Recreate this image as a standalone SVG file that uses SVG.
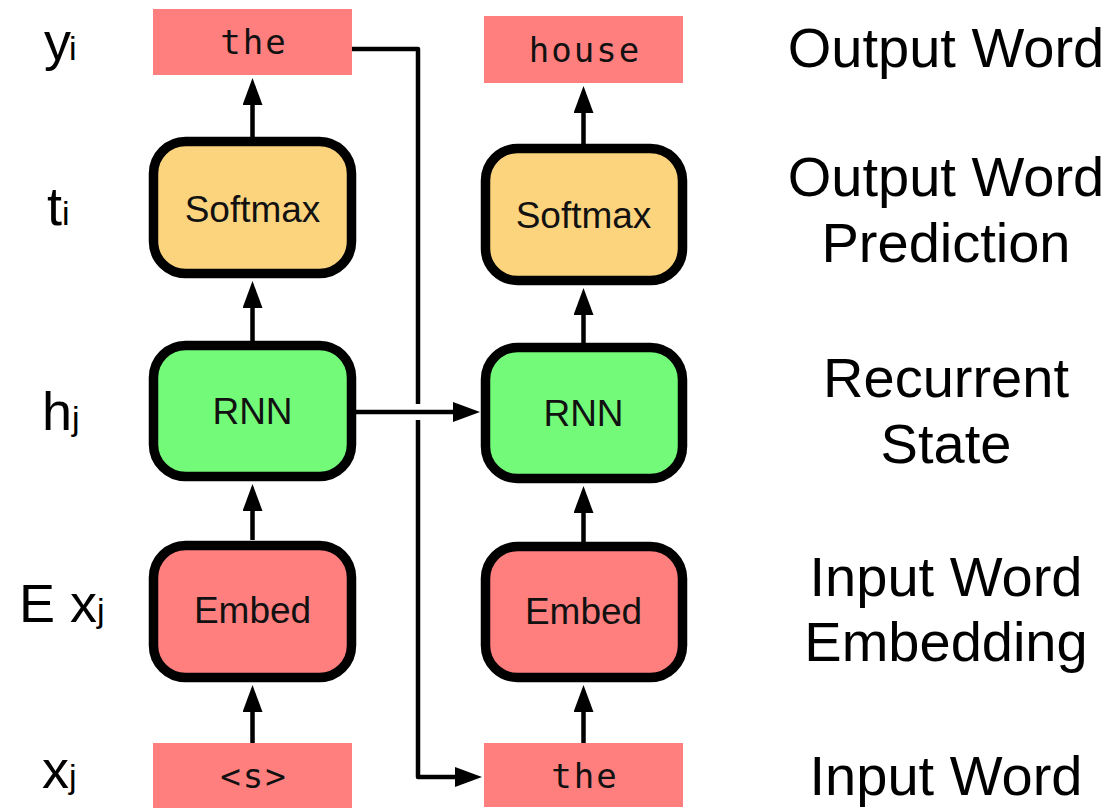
<svg xmlns="http://www.w3.org/2000/svg" width="1113" height="808" viewBox="0 0 1113 808">
<style>
.word{fill:#FF7F7E}
.node{stroke:#000;stroke-width:9.5}
.sm{fill:#FDD47E}
.rnn{fill:#74FA79}
.emb{fill:#FF7F7E}
.mono{font-family:"DejaVu Sans Mono","Liberation Mono",monospace;font-size:34px;letter-spacing:2px;text-anchor:middle;fill:#111}
.lbl{font-family:"Liberation Sans",Arial,sans-serif;font-size:37px;text-anchor:middle;fill:#111}
.side{font-family:"Liberation Sans",Arial,sans-serif;font-size:54px;fill:#000}
.right{font-family:"Liberation Sans",Arial,sans-serif;font-size:56px;text-anchor:middle;fill:#000}
.sub{font-size:34px}
.conn{fill:none;stroke:#000;stroke-width:4.5;stroke-linejoin:round}
</style>
<defs>
<marker id="ah" viewBox="0 0 27 20" refX="2" refY="10" markerWidth="27" markerHeight="20" markerUnits="userSpaceOnUse" orient="auto">
<path d="M0,0 L27,10 L0,20 z" fill="#000"/>
</marker>
</defs>
<rect width="1113" height="808" fill="#fff"/>

<g id="connectors">
<line class="conn" x1="252.5" y1="137" x2="252.5" y2="103" marker-end="url(#ah)"/>
<line class="conn" x1="252.5" y1="341" x2="252.5" y2="306" marker-end="url(#ah)"/>
<line class="conn" x1="252.5" y1="540" x2="252.5" y2="509" marker-end="url(#ah)"/>
<line class="conn" x1="252.5" y1="744" x2="252.5" y2="710" marker-end="url(#ah)"/>
<line class="conn" x1="583.5" y1="144" x2="583.5" y2="111" marker-end="url(#ah)"/>
<line class="conn" x1="583.5" y1="343" x2="583.5" y2="313" marker-end="url(#ah)"/>
<line class="conn" x1="583.5" y1="542" x2="583.5" y2="511" marker-end="url(#ah)"/>
<line class="conn" x1="583.5" y1="744" x2="583.5" y2="710" marker-end="url(#ah)"/>
<line class="conn" x1="356" y1="412" x2="455" y2="412" marker-end="url(#ah)"/>
<path class="conn" d="M352,49 H418 V404 M418,420 V777 H457" marker-end="url(#ah)"/>
</g>

<g id="out-the"><rect class="word" x="153" y="9" width="199" height="66"/><text class="mono" x="254" y="54">the</text></g>
<g id="out-house"><rect class="word" x="484" y="16" width="199" height="67"/><text class="mono" x="585" y="62">house</text></g>

<g id="softmax1"><rect class="node sm" x="153.5" y="141.5" width="198" height="132" rx="32"/><text class="lbl" x="252.5" y="222">Softmax</text></g>
<g id="softmax2"><rect class="node sm" x="485.5" y="148.5" width="197" height="132" rx="32"/><text class="lbl" x="583.5" y="228">Softmax</text></g>

<g id="rnn1"><rect class="node rnn" x="153.5" y="345.5" width="198" height="131" rx="32"/><text class="lbl" x="252.5" y="424">RNN</text></g>
<g id="rnn2"><rect class="node rnn" x="485.5" y="347.5" width="197" height="131" rx="32"/><text class="lbl" x="583.5" y="426">RNN</text></g>

<g id="embed1"><rect class="node emb" x="153.5" y="545.5" width="198" height="132" rx="32"/><text class="lbl" x="252.5" y="623">Embed</text></g>
<g id="embed2"><rect class="node emb" x="485.5" y="546.5" width="197" height="131" rx="32"/><text class="lbl" x="583.5" y="624">Embed</text></g>

<g id="in-s"><rect class="word" x="153" y="743" width="199" height="65"/><text class="mono" x="254" y="788">&lt;s&gt;</text></g>
<g id="in-the"><rect class="word" x="484" y="743" width="199" height="64"/><text class="mono" x="585" y="788">the</text></g>

<g id="side-labels">
<text class="side" x="44" y="60">y<tspan class="sub" dx="-2">i</tspan></text>
<text class="side" x="47" y="225">t<tspan class="sub">i</tspan></text>
<text class="side" x="42" y="430">h<tspan class="sub">j</tspan></text>
<text class="side" x="19" y="622">E x<tspan class="sub">j</tspan></text>
<text class="side" x="42" y="788">x<tspan class="sub">j</tspan></text>
</g>

<g id="right-labels">
<text class="right" x="946" y="67">Output Word</text>
<text class="right" x="946" y="196">Output Word</text>
<text class="right" x="946" y="262">Prediction</text>
<text class="right" x="946" y="397">Recurrent</text>
<text class="right" x="946" y="463">State</text>
<text class="right" x="946" y="596">Input Word</text>
<text class="right" x="946" y="661">Embedding</text>
<text class="right" x="946" y="795">Input Word</text>
</g>
</svg>
